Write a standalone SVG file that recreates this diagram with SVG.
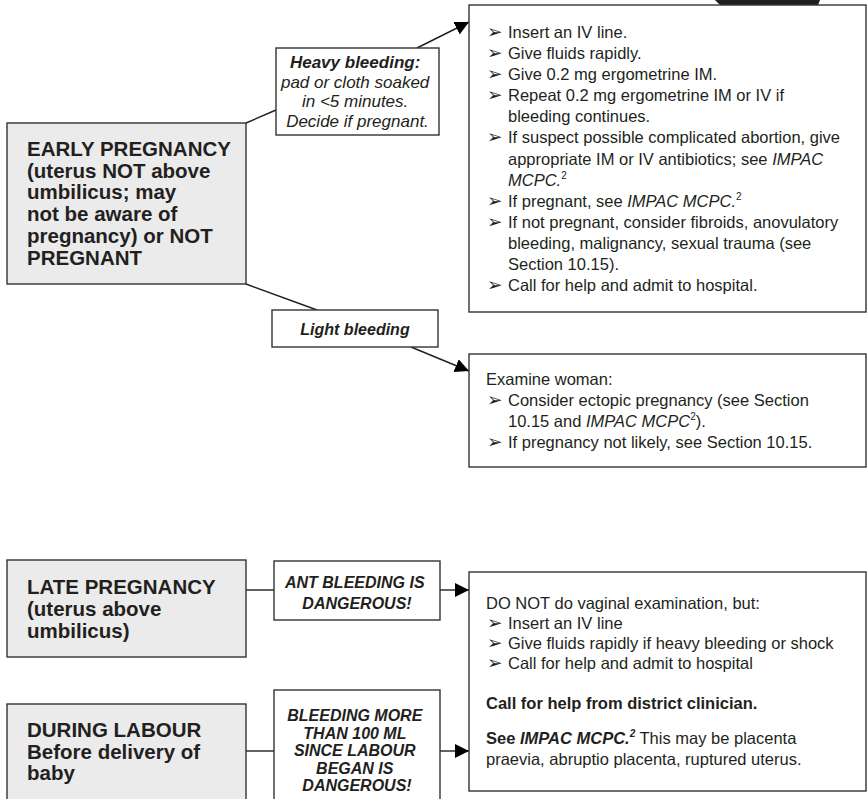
<svg xmlns="http://www.w3.org/2000/svg" width="867" height="799" viewBox="0 0 867 799">
<style>
  .box{fill:#fff;stroke:#333;stroke-width:1.4}
  .gbox{fill:#ebebeb;stroke:#333;stroke-width:1.4}
  .t{font-family:"Liberation Sans",Arial,sans-serif;fill:#231f20}
  .big{font-size:20.5px;font-weight:bold}
  .rt{font-size:16.5px}
  .lab{font-size:16px;font-style:italic;font-weight:bold;text-anchor:middle}
  .hv{font-size:17px;font-style:italic;text-anchor:middle}
  .bl{font-family:"DejaVu Sans",sans-serif;font-size:18.5px;fill:#231f20}
  .i{font-style:italic}
  .bo{font-weight:bold}
  .sup{font-size:10px}
  .ln{stroke:#231f20;stroke-width:1.4;fill:none}
  .ar{stroke:#231f20;stroke-width:1.4;fill:none;marker-end:url(#ah)}
</style>
<defs>
  <marker id="ah" markerUnits="userSpaceOnUse" markerWidth="15" markerHeight="15" refX="14" refY="7" orient="auto">
    <path d="M0,0 L14,7 L0,14 Z" fill="#000"/>
  </marker>
</defs>
<rect width="867" height="799" fill="#fff"/>
<path d="M715,0 L820,0 L818,5 Q817,7 814,7 L726,7 Q720,6 715,0 Z" fill="#231f20"/>

<g id="connectors">
  <line class="ln" x1="246" y1="123" x2="276" y2="110"/>
  <line class="ar" x1="417" y1="48" x2="469" y2="22"/>
  <line class="ln" x1="246" y1="284" x2="317" y2="310"/>
  <line class="ar" x1="411" y1="347" x2="469" y2="371"/>
  <line class="ln" x1="246" y1="590" x2="274" y2="590"/>
  <line class="ar" x1="440" y1="590" x2="469" y2="590"/>
  <line class="ln" x1="246" y1="751" x2="274" y2="751"/>
  <line class="ar" x1="440" y1="751" x2="469" y2="751"/>
</g>

<g id="early">
  <rect class="gbox" x="7" y="123" width="239" height="161"/>
  <text class="t big">
    <tspan x="27" y="156">EARLY PREGNANCY</tspan>
    <tspan x="27" y="177.7">(uterus NOT above</tspan>
    <tspan x="27" y="199.4">umbilicus; may</tspan>
    <tspan x="27" y="221.1">not be aware of</tspan>
    <tspan x="27" y="242.8">pregnancy) or NOT</tspan>
    <tspan x="27" y="264.5">PREGNANT</tspan>
  </text>
</g>

<g id="heavy">
  <rect class="box" x="276" y="48" width="163" height="87"/>
  <text class="t hv">
    <tspan x="357.5" y="68" font-weight="bold">Heavy bleeding:</tspan>
    <tspan x="357.5" y="87.5">pad or cloth soaked</tspan>
    <tspan x="357.5" y="107">in &lt;5 minutes.</tspan>
    <tspan x="357.5" y="126.5">Decide if pregnant.</tspan>
  </text>
</g>

<g id="light">
  <rect class="box" x="272" y="310" width="166" height="37"/>
  <text class="t lab" x="355" y="334.5">Light bleeding</text>
</g>

<g id="actions-heavy">
  <rect class="box" x="469" y="5" width="397" height="307"/>
  <g class="bl">
    <text x="487" y="38">➢</text>
    <text x="487" y="59.1">➢</text>
    <text x="487" y="80.2">➢</text>
    <text x="487" y="101.2">➢</text>
    <text x="487" y="143.4">➢</text>
    <text x="487" y="206.6">➢</text>
    <text x="487" y="227.7">➢</text>
    <text x="487" y="291">➢</text>
  </g>
  <text class="t rt">
    <tspan x="508" y="38">Insert an IV line.</tspan>
    <tspan x="508" y="59.1">Give fluids rapidly.</tspan>
    <tspan x="508" y="80.2">Give 0.2 mg ergometrine IM.</tspan>
    <tspan x="508" y="101.2">Repeat 0.2 mg ergometrine IM or IV if</tspan>
    <tspan x="508" y="122.3">bleeding continues.</tspan>
    <tspan x="508" y="143.4">If suspect possible complicated abortion, give</tspan>
    <tspan x="508" y="164.5">appropriate IM or IV antibiotics; see <tspan class="i">IMPAC</tspan></tspan>
    <tspan x="508" y="185.6" class="i">MCPC.</tspan><tspan class="sup" dy="-7">2</tspan>
    <tspan x="508" y="206.6">If pregnant, see <tspan class="i">IMPAC MCPC.</tspan></tspan><tspan class="sup" dy="-7">2</tspan>
    <tspan x="508" y="227.7">If not pregnant, consider fibroids, anovulatory</tspan>
    <tspan x="508" y="248.8">bleeding, malignancy, sexual trauma (see</tspan>
    <tspan x="508" y="269.9">Section 10.15).</tspan>
    <tspan x="508" y="291">Call for help and admit to hospital.</tspan>
  </text>
</g>

<g id="actions-light">
  <rect class="box" x="469" y="354" width="397" height="113"/>
  <g class="bl">
    <text x="487" y="406">➢</text>
    <text x="487" y="448">➢</text>
  </g>
  <text class="t rt">
    <tspan x="486" y="385">Examine woman:</tspan>
    <tspan x="508" y="406">Consider ectopic pregnancy (see Section</tspan>
    <tspan x="508" y="427">10.15 and <tspan class="i">IMPAC MCPC</tspan></tspan><tspan class="sup" dy="-7">2</tspan><tspan dy="7">).</tspan>
    <tspan x="508" y="448">If pregnancy not likely, see Section 10.15.</tspan>
  </text>
</g>

<g id="late">
  <rect class="gbox" x="7" y="560" width="239" height="97"/>
  <text class="t big">
    <tspan x="27" y="594">LATE PREGNANCY</tspan>
    <tspan x="27" y="616">(uterus above</tspan>
    <tspan x="27" y="638">umbilicus)</tspan>
  </text>
</g>

<g id="ant">
  <rect class="box" x="274" y="561" width="166" height="59"/>
  <text class="t lab" font-size="15.5">
    <tspan x="357" y="588">ANT BLEEDING IS</tspan>
    <tspan x="357" y="609">DANGEROUS!</tspan>
  </text>
</g>

<g id="labour">
  <rect class="gbox" x="7" y="704" width="239" height="100"/>
  <text class="t big">
    <tspan x="27" y="737">DURING LABOUR</tspan>
    <tspan x="27" y="758.5">Before delivery of</tspan>
    <tspan x="27" y="780">baby</tspan>
  </text>
</g>

<g id="bleed100">
  <rect class="box" x="274" y="690" width="166" height="114"/>
  <text class="t lab">
    <tspan x="357" y="721">BLEEDING MORE</tspan>
    <tspan x="357" y="738.5">THAN 100 ML</tspan>
    <tspan x="357" y="756">SINCE LABOUR</tspan>
    <tspan x="357" y="773.5">BEGAN IS</tspan>
    <tspan x="357" y="791">DANGEROUS!</tspan>
  </text>
</g>

<g id="actions-late">
  <rect class="box" x="469" y="572" width="397" height="219"/>
  <g class="bl">
    <text x="487" y="629">➢</text>
    <text x="487" y="649">➢</text>
    <text x="487" y="669">➢</text>
  </g>
  <text class="t rt">
    <tspan x="486" y="609">DO NOT do vaginal examination, but:</tspan>
    <tspan x="508" y="629">Insert an IV line</tspan>
    <tspan x="508" y="649">Give fluids rapidly if heavy bleeding or shock</tspan>
    <tspan x="508" y="669">Call for help and admit to hospital</tspan>
    <tspan x="486" y="709" class="bo">Call for help from district clinician.</tspan>
    <tspan x="486" y="744" class="bo">See <tspan class="i">IMPAC MCPC.</tspan></tspan><tspan class="sup bo i" dy="-7">2</tspan><tspan dy="7"> This may be placenta</tspan>
    <tspan x="486" y="765">praevia, abruptio placenta, ruptured uterus.</tspan>
  </text>
</g>
</svg>
